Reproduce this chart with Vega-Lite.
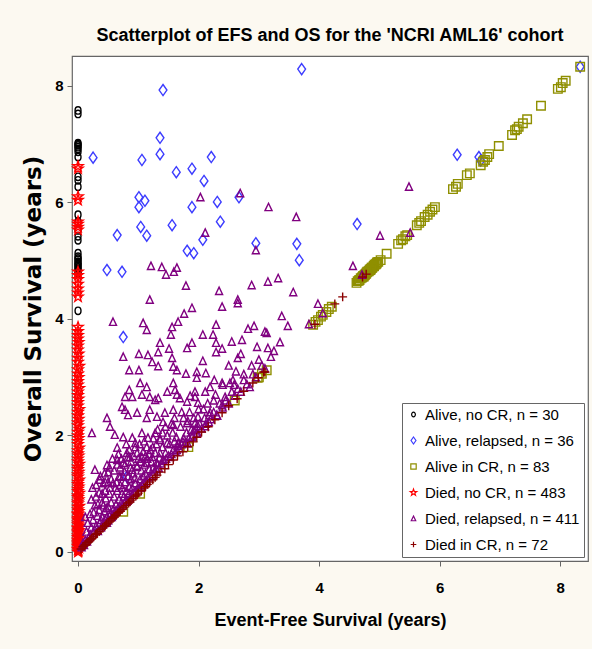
{
"$schema": "https://vega.github.io/schema/vega-lite/v6.json",
"width": 516, "height": 505,
"autosize": {"type": "none"},
"padding": {"left": 72, "top": 56, "right": 4, "bottom": 88},
"background": "#fcf9f1",
"title": {"text": "Scatterplot of EFS and OS for the 'NCRI AML16' cohort", "font": "Liberation Sans", "fontSize": 18, "fontWeight": "bold", "color": "black", "anchor": "middle", "offset": 11},
"config": {
  "view": {"fill": "white", "stroke": "#666666", "strokeWidth": 1.2},
  "axis": {"grid": false, "domain": false, "tickColor": "#666666", "tickSize": 5, "labelFont": "Liberation Sans", "labelFontWeight": "bold", "labelFontSize": 15, "labelColor": "black", "titleColor": "black"},
  "legend": {"orient": "bottom-right", "offset": 4, "fillColor": "white", "strokeColor": "#666666", "padding": 4, "labelFont": "Liberation Sans", "labelFontSize": 15, "labelColor": "black", "symbolSize": 22, "symbolStrokeWidth": 1.2, "rowPadding": 10, "labelLimit": 300, "labelOffset": 4}
},
"data": {"values": [
{"e":0,"o":7.58,"g":"a"},{"e":0,"o":7.52,"g":"a"},{"e":0,"o":7.02,"g":"a"},{"e":0,"o":7.0,"g":"a"},{"e":0,"o":6.98,"g":"a"},{"e":0,"o":6.95,"g":"a"},{"e":0,"o":6.92,"g":"a"},{"e":0,"o":6.87,"g":"a"},{"e":0,"o":6.78,"g":"a"},{"e":0,"o":6.44,"g":"a"},{"e":0,"o":6.38,"g":"a"},{"e":0,"o":6.27,"g":"a"},{"e":0,"o":5.79,"g":"a"},{"e":0,"o":5.67,"g":"a"},{"e":0,"o":5.52,"g":"a"},{"e":0,"o":5.42,"g":"a"},{"e":0,"o":5.35,"g":"a"},{"e":0,"o":5.13,"g":"a"},{"e":0,"o":5.07,"g":"a"},{"e":0,"o":5.04,"g":"a"},{"e":0,"o":5.02,"g":"a"},{"e":0,"o":4.98,"g":"a"},{"e":0,"o":4.96,"g":"a"},{"e":0,"o":4.93,"g":"a"},{"e":0,"o":4.91,"g":"a"},{"e":0,"o":4.88,"g":"a"},{"e":0,"o":4.85,"g":"a"},{"e":0,"o":4.83,"g":"a"},{"e":0,"o":4.79,"g":"a"},{"e":0,"o":4.14,"g":"a"},
{"e":0.25,"o":6.77,"g":"b"},{"e":1.36,"o":7.11,"g":"b"},{"e":1.06,"o":6.73,"g":"b"},{"e":1.36,"o":6.83,"g":"b"},{"e":1.63,"o":6.52,"g":"b"},{"e":1.89,"o":6.58,"g":"b"},{"e":2.21,"o":6.78,"g":"b"},{"e":2.09,"o":6.37,"g":"b"},{"e":1.01,"o":6.09,"g":"b"},{"e":1.11,"o":6.03,"g":"b"},{"e":1.01,"o":5.92,"g":"b"},{"e":1.89,"o":5.92,"g":"b"},{"e":2.31,"o":6.01,"g":"b"},{"e":2.67,"o":6.09,"g":"b"},{"e":1.04,"o":5.58,"g":"b"},{"e":1.14,"o":5.43,"g":"b"},{"e":0.65,"o":5.44,"g":"b"},{"e":1.56,"o":5.61,"g":"b"},{"e":2.36,"o":5.67,"g":"b"},{"e":2.07,"o":5.36,"g":"b"},{"e":1.81,"o":5.17,"g":"b"},{"e":1.92,"o":5.13,"g":"b"},{"e":2.95,"o":5.3,"g":"b"},{"e":0.48,"o":4.84,"g":"b"},{"e":0.73,"o":4.81,"g":"b"},{"e":3.71,"o":8.29,"g":"b"},{"e":1.41,"o":7.93,"g":"b"},{"e":0.75,"o":3.69,"g":"b"},{"e":3.63,"o":5.29,"g":"b"},{"e":3.67,"o":5.01,"g":"b"},{"e":4.63,"o":5.63,"g":"b"},{"e":6.29,"o":6.82,"g":"b"},{"e":6.65,"o":6.78,"g":"b"},{"e":8.33,"o":8.33,"g":"b"},{"e":0.81,"o":1.29,"g":"b"},{"e":6.68,"o":6.72,"g":"b"},
{"e":2.98,"o":2.99,"g":"c"},{"e":3.0,"o":3.0,"g":"c"},{"e":3.05,"o":3.06,"g":"c"},{"e":3.13,"o":3.12,"g":"c"},{"e":3.9,"o":3.9,"g":"c"},{"e":3.94,"o":3.95,"g":"c"},{"e":3.98,"o":3.98,"g":"c"},{"e":4.03,"o":4.04,"g":"c"},{"e":4.06,"o":4.07,"g":"c"},{"e":4.12,"o":4.12,"g":"c"},{"e":4.16,"o":4.17,"g":"c"},{"e":4.21,"o":4.21,"g":"c"},{"e":4.62,"o":4.62,"g":"c"},{"e":4.64,"o":4.65,"g":"c"},{"e":4.67,"o":4.67,"g":"c"},{"e":4.69,"o":4.7,"g":"c"},{"e":4.71,"o":4.71,"g":"c"},{"e":4.73,"o":4.74,"g":"c"},{"e":4.75,"o":4.75,"g":"c"},{"e":4.77,"o":4.77,"g":"c"},{"e":4.79,"o":4.8,"g":"c"},{"e":4.8,"o":4.81,"g":"c"},{"e":4.82,"o":4.82,"g":"c"},{"e":4.84,"o":4.85,"g":"c"},{"e":4.86,"o":4.86,"g":"c"},{"e":4.88,"o":4.88,"g":"c"},{"e":4.9,"o":4.9,"g":"c"},{"e":4.92,"o":4.93,"g":"c"},{"e":4.94,"o":4.94,"g":"c"},{"e":4.96,"o":4.97,"g":"c"},{"e":4.98,"o":4.98,"g":"c"},{"e":4.72,"o":4.72,"g":"c"},{"e":4.78,"o":4.78,"g":"c"},{"e":4.85,"o":4.84,"g":"c"},{"e":4.91,"o":4.91,"g":"c"},{"e":4.76,"o":4.76,"g":"c"},{"e":4.66,"o":4.66,"g":"c"},{"e":4.74,"o":4.73,"g":"c"},{"e":4.83,"o":4.83,"g":"c"},{"e":4.95,"o":4.95,"g":"c"},{"e":4.87,"o":4.88,"g":"c"},{"e":5.02,"o":5.01,"g":"c"},{"e":5.12,"o":5.12,"g":"c"},{"e":5.31,"o":5.29,"g":"c"},{"e":5.36,"o":5.35,"g":"c"},{"e":5.39,"o":5.37,"g":"c"},{"e":5.43,"o":5.42,"g":"c"},{"e":5.46,"o":5.44,"g":"c"},{"e":5.62,"o":5.61,"g":"c"},{"e":5.66,"o":5.65,"g":"c"},{"e":5.69,"o":5.68,"g":"c"},{"e":5.75,"o":5.75,"g":"c"},{"e":5.8,"o":5.79,"g":"c"},{"e":5.84,"o":5.84,"g":"c"},{"e":5.88,"o":5.88,"g":"c"},{"e":5.92,"o":5.92,"g":"c"},{"e":6.22,"o":6.23,"g":"c"},{"e":6.27,"o":6.27,"g":"c"},{"e":6.3,"o":6.32,"g":"c"},{"e":6.45,"o":6.47,"g":"c"},{"e":6.5,"o":6.5,"g":"c"},{"e":6.68,"o":6.64,"g":"c"},{"e":6.72,"o":6.7,"g":"c"},{"e":6.75,"o":6.73,"g":"c"},{"e":6.79,"o":6.78,"g":"c"},{"e":6.82,"o":6.83,"g":"c"},{"e":6.98,"o":6.97,"g":"c"},{"e":7.2,"o":7.16,"g":"c"},{"e":7.25,"o":7.24,"g":"c"},{"e":7.28,"o":7.26,"g":"c"},{"e":7.31,"o":7.3,"g":"c"},{"e":7.38,"o":7.36,"g":"c"},{"e":7.45,"o":7.43,"g":"c"},{"e":7.68,"o":7.66,"g":"c"},{"e":7.96,"o":7.95,"g":"c"},{"e":8.01,"o":7.98,"g":"c"},{"e":8.04,"o":8.05,"g":"c"},{"e":8.09,"o":8.09,"g":"c"},{"e":8.33,"o":8.33,"g":"c"},{"e":1.03,"o":1.0,"g":"c"},{"e":0.75,"o":0.69,"g":"c"},{"e":1.83,"o":1.8,"g":"c"},{"e":2.6,"o":2.6,"g":"c"},
{"e":0,"o":0.0,"g":"d"},{"e":0.01,"o":0.02,"g":"d"},{"e":0,"o":0.04,"g":"d"},{"e":0,"o":0.05,"g":"d"},{"e":0.02,"o":0.07,"g":"d"},{"e":0,"o":0.09,"g":"d"},{"e":0,"o":0.1,"g":"d"},{"e":0.01,"o":0.12,"g":"d"},{"e":0,"o":0.14,"g":"d"},{"e":0,"o":0.16,"g":"d"},{"e":0.02,"o":0.17,"g":"d"},{"e":0,"o":0.19,"g":"d"},{"e":0,"o":0.21,"g":"d"},{"e":0.01,"o":0.24,"g":"d"},{"e":0,"o":0.25,"g":"d"},{"e":0,"o":0.28,"g":"d"},{"e":0.02,"o":0.3,"g":"d"},{"e":0,"o":0.33,"g":"d"},{"e":0,"o":0.35,"g":"d"},{"e":0.01,"o":0.37,"g":"d"},{"e":0,"o":0.4,"g":"d"},{"e":0,"o":0.42,"g":"d"},{"e":0.02,"o":0.45,"g":"d"},{"e":0,"o":0.47,"g":"d"},{"e":0,"o":0.5,"g":"d"},{"e":0.01,"o":0.53,"g":"d"},{"e":0,"o":0.55,"g":"d"},{"e":0,"o":0.58,"g":"d"},{"e":0.02,"o":0.61,"g":"d"},{"e":0,"o":0.64,"g":"d"},{"e":0,"o":0.66,"g":"d"},{"e":0.01,"o":0.7,"g":"d"},{"e":0,"o":0.73,"g":"d"},{"e":0,"o":0.77,"g":"d"},{"e":0.02,"o":0.79,"g":"d"},{"e":0,"o":0.83,"g":"d"},{"e":0,"o":0.86,"g":"d"},{"e":0.01,"o":0.9,"g":"d"},{"e":0,"o":0.94,"g":"d"},{"e":0,"o":0.97,"g":"d"},{"e":0.02,"o":1.01,"g":"d"},{"e":0,"o":1.04,"g":"d"},{"e":0,"o":1.08,"g":"d"},{"e":0.01,"o":1.12,"g":"d"},{"e":0,"o":1.16,"g":"d"},{"e":0,"o":1.2,"g":"d"},{"e":0.02,"o":1.24,"g":"d"},{"e":0,"o":1.29,"g":"d"},{"e":0,"o":1.33,"g":"d"},{"e":0.01,"o":1.37,"g":"d"},{"e":0,"o":1.42,"g":"d"},{"e":0,"o":1.46,"g":"d"},{"e":0.02,"o":1.51,"g":"d"},{"e":0,"o":1.55,"g":"d"},{"e":0,"o":1.6,"g":"d"},{"e":0.01,"o":1.65,"g":"d"},{"e":0,"o":1.69,"g":"d"},{"e":0,"o":1.74,"g":"d"},{"e":0.02,"o":1.79,"g":"d"},{"e":0,"o":1.85,"g":"d"},{"e":0,"o":1.9,"g":"d"},{"e":0.01,"o":1.95,"g":"d"},{"e":0,"o":2.0,"g":"d"},{"e":0,"o":2.06,"g":"d"},{"e":0.02,"o":2.11,"g":"d"},{"e":0,"o":2.17,"g":"d"},{"e":0,"o":2.22,"g":"d"},{"e":0.01,"o":2.28,"g":"d"},{"e":0,"o":2.34,"g":"d"},{"e":0,"o":2.4,"g":"d"},{"e":0.02,"o":2.45,"g":"d"},{"e":0,"o":2.51,"g":"d"},{"e":0,"o":2.57,"g":"d"},{"e":0.01,"o":2.63,"g":"d"},{"e":0,"o":2.69,"g":"d"},{"e":0,"o":2.75,"g":"d"},{"e":0.02,"o":2.81,"g":"d"},{"e":0,"o":2.87,"g":"d"},{"e":0,"o":2.93,"g":"d"},{"e":0.01,"o":3.0,"g":"d"},{"e":0,"o":3.06,"g":"d"},{"e":0,"o":3.13,"g":"d"},{"e":0.02,"o":3.19,"g":"d"},{"e":0,"o":3.26,"g":"d"},{"e":0,"o":3.33,"g":"d"},{"e":0.01,"o":3.4,"g":"d"},{"e":0,"o":3.47,"g":"d"},{"e":0,"o":3.54,"g":"d"},{"e":0.01,"o":3.6,"g":"d"},{"e":0,"o":3.66,"g":"d"},{"e":0,"o":3.72,"g":"d"},{"e":0,"o":3.79,"g":"d"},{"e":0,"o":3.86,"g":"d"},{"e":0,"o":4.38,"g":"d"},{"e":0,"o":4.45,"g":"d"},{"e":0,"o":4.52,"g":"d"},{"e":0,"o":4.6,"g":"d"},{"e":0,"o":4.68,"g":"d"},{"e":0,"o":4.75,"g":"d"},{"e":0,"o":4.81,"g":"d"},{"e":0,"o":5.53,"g":"d"},{"e":0,"o":5.58,"g":"d"},{"e":0,"o":5.63,"g":"d"},{"e":0,"o":5.67,"g":"d"},{"e":0,"o":6.04,"g":"d"},{"e":0,"o":6.1,"g":"d"},{"e":0,"o":6.58,"g":"d"},{"e":0,"o":6.62,"g":"d"},
{"e":1.19,"o":4.33,"g":"e"},{"e":0.58,"o":3.95,"g":"e"},{"e":1.08,"o":3.93,"g":"e"},{"e":1.14,"o":3.81,"g":"e"},{"e":1.76,"o":4.09,"g":"e"},{"e":1.89,"o":4.19,"g":"e"},{"e":1.66,"o":3.95,"g":"e"},{"e":1.56,"o":3.86,"g":"e"},{"e":2.39,"o":4.21,"g":"e"},{"e":2.65,"o":4.27,"g":"e"},{"e":2.29,"o":3.9,"g":"e"},{"e":2.07,"o":3.73,"g":"e"},{"e":2.24,"o":3.73,"g":"e"},{"e":1.54,"o":3.73,"g":"e"},{"e":1.36,"o":3.59,"g":"e"},{"e":1.33,"o":3.43,"g":"e"},{"e":1.51,"o":3.49,"g":"e"},{"e":1.89,"o":3.59,"g":"e"},{"e":2.29,"o":3.59,"g":"e"},{"e":2.55,"o":3.61,"g":"e"},{"e":2.72,"o":3.64,"g":"e"},{"e":2.82,"o":3.83,"g":"e"},{"e":2.92,"o":3.88,"g":"e"},{"e":3.1,"o":3.78,"g":"e"},{"e":2.29,"o":3.43,"g":"e"},{"e":2.39,"o":3.49,"g":"e"},{"e":0.75,"o":3.35,"g":"e"},{"e":1.01,"o":3.4,"g":"e"},{"e":1.16,"o":3.38,"g":"e"},{"e":1.23,"o":3.26,"g":"e"},{"e":1.33,"o":3.19,"g":"e"},{"e":1.56,"o":3.33,"g":"e"},{"e":1.58,"o":3.18,"g":"e"},{"e":1.64,"o":3.12,"g":"e"},{"e":2.07,"o":3.28,"g":"e"},{"e":2.65,"o":3.33,"g":"e"},{"e":0.85,"o":3.12,"g":"e"},{"e":1.01,"o":3.12,"g":"e"},{"e":1.79,"o":3.06,"g":"e"},{"e":1.97,"o":2.99,"g":"e"},{"e":2.12,"o":3.07,"g":"e"},{"e":2.26,"o":2.95,"g":"e"},{"e":2.4,"o":2.87,"g":"e"},{"e":2.19,"o":2.83,"g":"e"},{"e":2.59,"o":2.87,"g":"e"},{"e":2.85,"o":2.83,"g":"e"},{"e":1.58,"o":2.9,"g":"e"},{"e":1.61,"o":2.78,"g":"e"},{"e":1.48,"o":2.75,"g":"e"},{"e":1.03,"o":2.9,"g":"e"},{"e":1.06,"o":2.7,"g":"e"},{"e":0.85,"o":2.78,"g":"e"},{"e":0.78,"o":2.66,"g":"e"},{"e":0.9,"o":2.66,"g":"e"},{"e":1.33,"o":2.64,"g":"e"},{"e":1.28,"o":2.61,"g":"e"},{"e":1.64,"o":2.7,"g":"e"},{"e":1.69,"o":2.64,"g":"e"},{"e":1.86,"o":2.68,"g":"e"},{"e":1.94,"o":2.66,"g":"e"},{"e":1.99,"o":2.56,"g":"e"},{"e":2.44,"o":2.66,"g":"e"},{"e":0.73,"o":2.49,"g":"e"},{"e":0.78,"o":2.44,"g":"e"},{"e":0.48,"o":2.3,"g":"e"},{"e":0.53,"o":2.15,"g":"e"},{"e":0.61,"o":2.01,"g":"e"},{"e":0.23,"o":2.04,"g":"e"},{"e":0.83,"o":2.35,"g":"e"},{"e":0.98,"o":2.39,"g":"e"},{"e":1.19,"o":2.44,"g":"e"},{"e":1.31,"o":2.32,"g":"e"},{"e":1.14,"o":2.3,"g":"e"},{"e":1.44,"o":2.39,"g":"e"},{"e":1.41,"o":2.23,"g":"e"},{"e":1.58,"o":2.44,"g":"e"},{"e":1.72,"o":2.4,"g":"e"},{"e":1.58,"o":2.18,"g":"e"},{"e":1.81,"o":2.21,"g":"e"},{"e":1.92,"o":2.09,"g":"e"},{"e":1.99,"o":2.16,"g":"e"},{"e":1.89,"o":1.97,"g":"e"},{"e":1.97,"o":2.03,"g":"e"},{"e":2.19,"o":2.4,"g":"e"},{"e":2.17,"o":2.23,"g":"e"},{"e":2.11,"o":2.16,"g":"e"},{"e":2.39,"o":2.52,"g":"e"},{"e":2.31,"o":2.34,"g":"e"},{"e":0.75,"o":1.97,"g":"e"},{"e":0.9,"o":1.96,"g":"e"},{"e":0.95,"o":1.87,"g":"e"},{"e":1.06,"o":2.04,"g":"e"},{"e":1.16,"o":1.96,"g":"e"},{"e":1.28,"o":2.04,"g":"e"},{"e":1.36,"o":1.92,"g":"e"},{"e":1.48,"o":1.87,"g":"e"},{"e":1.14,"o":1.8,"g":"e"},{"e":1.24,"o":1.8,"g":"e"},{"e":0.65,"o":1.79,"g":"e"},{"e":0.81,"o":1.7,"g":"e"},{"e":0.86,"o":1.63,"g":"e"},{"e":0.98,"o":1.7,"g":"e"},{"e":1.06,"o":1.63,"g":"e"},{"e":1.23,"o":1.63,"g":"e"},{"e":1.36,"o":1.7,"g":"e"},{"e":1.63,"o":1.97,"g":"e"},{"e":1.66,"o":1.87,"g":"e"},{"e":1.74,"o":1.89,"g":"e"},{"e":0.65,"o":1.58,"g":"e"},{"e":0.75,"o":1.53,"g":"e"},{"e":0.48,"o":1.49,"g":"e"},{"e":0.5,"o":1.37,"g":"e"},{"e":0.28,"o":1.41,"g":"e"},{"e":0.36,"o":1.24,"g":"e"},{"e":0.45,"o":1.2,"g":"e"},{"e":0.58,"o":1.18,"g":"e"},{"e":0.7,"o":1.29,"g":"e"},{"e":0.9,"o":1.41,"g":"e"},{"e":0.98,"o":1.46,"g":"e"},{"e":1.14,"o":1.53,"g":"e"},{"e":1.31,"o":1.53,"g":"e"},{"e":1.41,"o":1.58,"g":"e"},{"e":1.53,"o":1.63,"g":"e"},{"e":1.64,"o":1.75,"g":"e"},{"e":1.82,"o":1.86,"g":"e"},{"e":1.94,"o":2.21,"g":"e"},{"e":1.99,"o":2.32,"g":"e"},{"e":1.14,"o":2.83,"g":"e"},{"e":1.19,"o":2.66,"g":"e"},{"e":1.81,"o":2.58,"g":"e"},{"e":1.94,"o":2.75,"g":"e"},{"e":2.11,"o":2.75,"g":"e"},{"e":2.39,"o":2.9,"g":"e"},{"e":1.81,"o":3.5,"g":"e"},{"e":1.97,"o":3.09,"g":"e"},{"e":2.57,"o":2.95,"g":"e"},{"e":2.97,"o":3.52,"g":"e"},{"e":3.13,"o":3.76,"g":"e"},{"e":2.03,"o":6.09,"g":"e"},{"e":2.69,"o":6.16,"g":"e"},{"e":2.11,"o":5.48,"g":"e"},{"e":3.16,"o":5.92,"g":"e"},{"e":2.95,"o":5.18,"g":"e"},{"e":1.21,"o":4.91,"g":"e"},{"e":1.39,"o":4.89,"g":"e"},{"e":1.46,"o":4.76,"g":"e"},{"e":1.59,"o":4.81,"g":"e"},{"e":1.64,"o":4.88,"g":"e"},{"e":1.79,"o":4.57,"g":"e"},{"e":2.34,"o":4.48,"g":"e"},{"e":2.88,"o":4.58,"g":"e"},{"e":3.15,"o":4.64,"g":"e"},{"e":2.65,"o":4.33,"g":"e"},{"e":3.62,"o":5.75,"g":"e"},{"e":5.49,"o":6.27,"g":"e"},{"e":5.01,"o":5.43,"g":"e"},{"e":5.51,"o":5.48,"g":"e"},{"e":4.56,"o":4.91,"g":"e"},{"e":4.71,"o":4.76,"g":"e"},{"e":3.32,"o":4.7,"g":"e"},{"e":3.57,"o":4.46,"g":"e"},{"e":3.98,"o":4.26,"g":"e"},{"e":4.06,"o":4.1,"g":"e"},{"e":3.38,"o":4.05,"g":"e"},{"e":3.48,"o":3.88,"g":"e"},{"e":3.15,"o":3.5,"g":"e"},{"e":3.83,"o":3.91,"g":"e"},{"e":2.75,"o":3.05,"g":"e"},{"e":2.88,"o":3.2,"g":"e"},{"e":3.0,"o":3.3,"g":"e"},{"e":3.25,"o":3.45,"g":"e"},{"e":3.35,"o":3.6,"g":"e"},{"e":2.5,"o":3.2,"g":"e"},{"e":2.7,"o":3.4,"g":"e"},
{"e":0.06,"o":0.08,"g":"e"},{"e":0.1,"o":0.12,"g":"e"},{"e":0.12,"o":0.2,"g":"e"},{"e":0.15,"o":0.18,"g":"e"},{"e":0.08,"o":0.15,"g":"e"},{"e":0.18,"o":0.25,"g":"e"},{"e":0.2,"o":0.3,"g":"e"},{"e":0.14,"o":0.35,"g":"e"},{"e":0.16,"o":0.5,"g":"e"},{"e":0.22,"o":0.42,"g":"e"},{"e":0.25,"o":0.33,"g":"e"},{"e":0.12,"o":0.6,"g":"e"},{"e":0.25,"o":0.55,"g":"e"},{"e":0.28,"o":0.38,"g":"e"},{"e":0.3,"o":0.45,"g":"e"},{"e":0.32,"o":0.62,"g":"e"},{"e":0.33,"o":0.36,"g":"e"},{"e":0.35,"o":0.72,"g":"e"},{"e":0.36,"o":0.5,"g":"e"},{"e":0.38,"o":0.42,"g":"e"},{"e":0.4,"o":0.85,"g":"e"},{"e":0.28,"o":0.8,"g":"e"},{"e":0.3,"o":0.95,"g":"e"},{"e":0.4,"o":0.6,"g":"e"},{"e":0.38,"o":0.55,"g":"e"},{"e":0.26,"o":0.68,"g":"e"},{"e":0.42,"o":0.48,"g":"e"},{"e":0.44,"o":0.7,"g":"e"},{"e":0.45,"o":0.56,"g":"e"},{"e":0.46,"o":0.92,"g":"e"},{"e":0.48,"o":0.6,"g":"e"},{"e":0.5,"o":0.78,"g":"e"},{"e":0.5,"o":0.54,"g":"e"},{"e":0.52,"o":1.0,"g":"e"},{"e":0.54,"o":0.66,"g":"e"},{"e":0.55,"o":0.85,"g":"e"},{"e":0.56,"o":0.6,"g":"e"},{"e":0.58,"o":0.72,"g":"e"},{"e":0.6,"o":0.95,"g":"e"},{"e":0.6,"o":0.66,"g":"e"},{"e":0.45,"o":1.05,"g":"e"},{"e":0.42,"o":0.8,"g":"e"},{"e":0.48,"o":0.5,"g":"e"},{"e":0.53,"o":1.1,"g":"e"},{"e":0.57,"o":0.63,"g":"e"},{"e":0.62,"o":0.7,"g":"e"},{"e":0.63,"o":0.82,"g":"e"},{"e":0.65,"o":1.05,"g":"e"},{"e":0.66,"o":0.75,"g":"e"},{"e":0.68,"o":0.9,"g":"e"},{"e":0.7,"o":0.76,"g":"e"},{"e":0.7,"o":1.15,"g":"e"},{"e":0.72,"o":0.85,"g":"e"},{"e":0.73,"o":1.0,"g":"e"},{"e":0.75,"o":0.8,"g":"e"},{"e":0.76,"o":0.95,"g":"e"},{"e":0.78,"o":1.2,"g":"e"},{"e":0.78,"o":0.86,"g":"e"},{"e":0.8,"o":1.05,"g":"e"},{"e":0.8,"o":0.9,"g":"e"},{"e":0.64,"o":1.2,"g":"e"},{"e":0.68,"o":1.3,"g":"e"},{"e":0.74,"o":1.1,"g":"e"},{"e":0.77,"o":1.38,"g":"e"},{"e":0.82,"o":0.88,"g":"e"},{"e":0.84,"o":1.0,"g":"e"},{"e":0.85,"o":1.12,"g":"e"},{"e":0.86,"o":0.92,"g":"e"},{"e":0.88,"o":1.25,"g":"e"},{"e":0.9,"o":0.98,"g":"e"},{"e":0.9,"o":1.1,"g":"e"},{"e":0.92,"o":1.35,"g":"e"},{"e":0.93,"o":1.02,"g":"e"},{"e":0.95,"o":1.18,"g":"e"},{"e":0.96,"o":1.04,"g":"e"},{"e":0.98,"o":1.48,"g":"e"},{"e":0.99,"o":1.1,"g":"e"},{"e":0.83,"o":1.3,"g":"e"},{"e":0.87,"o":1.45,"g":"e"},{"e":0.94,"o":1.27,"g":"e"},{"e":1.02,"o":1.1,"g":"e"},{"e":1.03,"o":1.25,"g":"e"},{"e":1.05,"o":1.4,"g":"e"},{"e":1.06,"o":1.15,"g":"e"},{"e":1.08,"o":1.3,"g":"e"},{"e":1.1,"o":1.2,"g":"e"},{"e":1.1,"o":1.5,"g":"e"},{"e":1.12,"o":1.35,"g":"e"},{"e":1.14,"o":1.22,"g":"e"},{"e":1.15,"o":1.6,"g":"e"},{"e":1.16,"o":1.28,"g":"e"},{"e":1.18,"o":1.42,"g":"e"},{"e":1.2,"o":1.3,"g":"e"},{"e":1.22,"o":1.55,"g":"e"},{"e":1.24,"o":1.33,"g":"e"},{"e":1.25,"o":1.45,"g":"e"},{"e":1.27,"o":1.38,"g":"e"},{"e":1.28,"o":1.7,"g":"e"},{"e":1.3,"o":1.42,"g":"e"},{"e":1.04,"o":1.55,"g":"e"},{"e":1.12,"o":1.65,"g":"e"},{"e":1.2,"o":1.75,"g":"e"},{"e":1.32,"o":1.5,"g":"e"},{"e":1.34,"o":1.44,"g":"e"},{"e":1.35,"o":1.62,"g":"e"},{"e":1.38,"o":1.52,"g":"e"},{"e":1.4,"o":1.8,"g":"e"},{"e":1.42,"o":1.56,"g":"e"},{"e":1.45,"o":1.7,"g":"e"},{"e":1.46,"o":1.6,"g":"e"},{"e":1.5,"o":1.65,"g":"e"},{"e":1.52,"o":1.85,"g":"e"},{"e":1.55,"o":1.68,"g":"e"},{"e":1.58,"o":1.75,"g":"e"},{"e":1.6,"o":1.9,"g":"e"},{"e":1.62,"o":1.72,"g":"e"},{"e":1.65,"o":1.82,"g":"e"},{"e":1.68,"o":1.78,"g":"e"},{"e":1.36,"o":1.95,"g":"e"},{"e":1.48,"o":2.0,"g":"e"},{"e":1.57,"o":2.05,"g":"e"},{"e":1.72,"o":1.85,"g":"e"},{"e":1.75,"o":1.95,"g":"e"},{"e":1.78,"o":1.88,"g":"e"},{"e":1.8,"o":2.05,"g":"e"},{"e":1.84,"o":1.96,"g":"e"},{"e":1.88,"o":2.1,"g":"e"},{"e":1.9,"o":2.0,"g":"e"},{"e":1.95,"o":2.12,"g":"e"},{"e":1.98,"o":2.05,"g":"e"},{"e":2.02,"o":2.2,"g":"e"},{"e":2.05,"o":2.12,"g":"e"},{"e":2.1,"o":2.3,"g":"e"},{"e":2.12,"o":2.2,"g":"e"},{"e":2.18,"o":2.35,"g":"e"},{"e":2.2,"o":2.28,"g":"e"},{"e":1.82,"o":2.25,"g":"e"},{"e":1.92,"o":2.3,"g":"e"},{"e":2.08,"o":2.45,"g":"e"},{"e":2.25,"o":2.4,"g":"e"},{"e":2.3,"o":2.35,"g":"e"},{"e":2.35,"o":2.55,"g":"e"},{"e":2.4,"o":2.48,"g":"e"},{"e":2.45,"o":2.6,"g":"e"},{"e":2.5,"o":2.55,"g":"e"},{"e":2.55,"o":2.75,"g":"e"},{"e":2.6,"o":2.68,"g":"e"},{"e":2.65,"o":2.8,"g":"e"},{"e":2.7,"o":2.75,"g":"e"},{"e":2.75,"o":2.95,"g":"e"},{"e":2.8,"o":2.88,"g":"e"},{"e":2.9,"o":3.05,"g":"e"},{"e":2.95,"o":3.0,"g":"e"},{"e":3.05,"o":3.2,"g":"e"},{"e":3.1,"o":3.15,"g":"e"},{"e":3.2,"o":3.35,"g":"e"},{"e":2.28,"o":2.7,"g":"e"},{"e":2.52,"o":2.9,"g":"e"},{"e":2.62,"o":3.1,"g":"e"},
{"e":0.2,"o":0.65,"g":"e"},{"e":0.22,"o":0.9,"g":"e"},{"e":0.24,"o":1.1,"g":"e"},{"e":0.3,"o":1.15,"g":"e"},{"e":0.33,"o":0.82,"g":"e"},{"e":0.35,"o":1.02,"g":"e"},{"e":0.37,"o":1.3,"g":"e"},{"e":0.4,"o":1.0,"g":"e"},{"e":0.42,"o":1.18,"g":"e"},{"e":0.44,"o":1.35,"g":"e"},{"e":0.47,"o":0.75,"g":"e"},{"e":0.5,"o":1.2,"g":"e"},{"e":0.52,"o":1.45,"g":"e"},{"e":0.55,"o":1.25,"g":"e"},{"e":0.57,"o":1.6,"g":"e"},{"e":0.6,"o":1.4,"g":"e"},{"e":0.62,"o":1.1,"g":"e"},{"e":0.65,"o":1.5,"g":"e"},{"e":0.67,"o":1.68,"g":"e"},{"e":0.7,"o":1.45,"g":"e"},{"e":0.72,"o":1.6,"g":"e"},{"e":0.75,"o":1.3,"g":"e"},{"e":0.78,"o":1.5,"g":"e"},{"e":0.8,"o":1.85,"g":"e"},{"e":0.82,"o":1.62,"g":"e"},{"e":0.85,"o":1.75,"g":"e"},{"e":0.88,"o":1.55,"g":"e"},{"e":0.92,"o":1.65,"g":"e"},{"e":0.95,"o":1.8,"g":"e"},{"e":1.0,"o":1.6,"g":"e"},{"e":1.02,"o":1.85,"g":"e"},{"e":1.08,"o":1.72,"g":"e"},{"e":1.1,"o":1.9,"g":"e"},{"e":1.18,"o":1.68,"g":"e"},{"e":1.25,"o":1.95,"g":"e"},{"e":1.3,"o":1.85,"g":"e"},{"e":1.32,"o":2.1,"g":"e"},{"e":1.4,"o":2.05,"g":"e"},{"e":1.45,"o":2.15,"g":"e"},{"e":1.55,"o":2.2,"g":"e"},{"e":1.6,"o":2.3,"g":"e"},{"e":1.7,"o":2.15,"g":"e"},{"e":1.75,"o":2.3,"g":"e"},{"e":1.85,"o":2.4,"g":"e"},{"e":2.0,"o":2.45,"g":"e"},{"e":2.15,"o":2.55,"g":"e"},{"e":2.25,"o":2.6,"g":"e"},
{"e":0.05,"o":0.05,"g":"f"},{"e":0.08,"o":0.09,"g":"f"},{"e":0.1,"o":0.1,"g":"f"},{"e":0.12,"o":0.12,"g":"f"},{"e":0.13,"o":0.13,"g":"f"},{"e":0.15,"o":0.16,"g":"f"},{"e":0.18,"o":0.18,"g":"f"},{"e":0.2,"o":0.21,"g":"f"},{"e":0.22,"o":0.22,"g":"f"},{"e":0.23,"o":0.23,"g":"f"},{"e":0.26,"o":0.26,"g":"f"},{"e":0.29,"o":0.3,"g":"f"},{"e":0.31,"o":0.31,"g":"f"},{"e":0.32,"o":0.32,"g":"f"},{"e":0.35,"o":0.35,"g":"f"},{"e":0.38,"o":0.39,"g":"f"},{"e":0.41,"o":0.41,"g":"f"},{"e":0.44,"o":0.44,"g":"f"},{"e":0.45,"o":0.45,"g":"f"},{"e":0.47,"o":0.48,"g":"f"},{"e":0.5,"o":0.5,"g":"f"},{"e":0.53,"o":0.53,"g":"f"},{"e":0.56,"o":0.57,"g":"f"},{"e":0.58,"o":0.58,"g":"f"},{"e":0.6,"o":0.6,"g":"f"},{"e":0.63,"o":0.63,"g":"f"},{"e":0.66,"o":0.67,"g":"f"},{"e":0.68,"o":0.68,"g":"f"},{"e":0.7,"o":0.7,"g":"f"},{"e":0.73,"o":0.73,"g":"f"},{"e":0.76,"o":0.77,"g":"f"},{"e":0.8,"o":0.8,"g":"f"},{"e":0.84,"o":0.84,"g":"f"},{"e":0.86,"o":0.86,"g":"f"},{"e":0.88,"o":0.89,"g":"f"},{"e":0.92,"o":0.92,"g":"f"},{"e":0.96,"o":0.96,"g":"f"},{"e":0.98,"o":0.98,"g":"f"},{"e":1.0,"o":1.01,"g":"f"},{"e":1.05,"o":1.05,"g":"f"},{"e":1.1,"o":1.1,"g":"f"},{"e":1.12,"o":1.12,"g":"f"},{"e":1.15,"o":1.16,"g":"f"},{"e":1.19,"o":1.2,"g":"f"},{"e":1.24,"o":1.24,"g":"f"},{"e":1.28,"o":1.28,"g":"f"},{"e":1.31,"o":1.32,"g":"f"},{"e":1.36,"o":1.37,"g":"f"},{"e":1.44,"o":1.43,"g":"f"},{"e":1.5,"o":1.5,"g":"f"},{"e":1.58,"o":1.58,"g":"f"},{"e":1.65,"o":1.65,"g":"f"},{"e":1.74,"o":1.72,"g":"f"},{"e":1.82,"o":1.81,"g":"f"},{"e":1.91,"o":1.89,"g":"f"},{"e":1.97,"o":1.97,"g":"f"},{"e":2.05,"o":2.06,"g":"f"},{"e":2.16,"o":2.15,"g":"f"},{"e":2.27,"o":2.27,"g":"f"},{"e":2.39,"o":2.39,"g":"f"},{"e":2.5,"o":2.51,"g":"f"},{"e":2.64,"o":2.63,"g":"f"},{"e":2.75,"o":2.76,"g":"f"},{"e":2.9,"o":2.9,"g":"f"},{"e":2.99,"o":2.99,"g":"f"},{"e":3.08,"o":3.09,"g":"f"},{"e":3.1,"o":3.09,"g":"f"},{"e":3.93,"o":3.91,"g":"f"},{"e":4.26,"o":4.26,"g":"f"},{"e":4.39,"o":4.38,"g":"f"},{"e":4.72,"o":4.72,"g":"f"},{"e":4.78,"o":4.77,"g":"f"}
]},
"transform": [{"lookup": "g", "from": {"data": {"values": [
  {"g": "a", "s": "Alive, no CR, n = 30"},
  {"g": "b", "s": "Alive, relapsed, n = 36"},
  {"g": "c", "s": "Alive in CR, n = 83"},
  {"g": "d", "s": "Died, no CR, n = 483"},
  {"g": "e", "s": "Died, relapsed, n = 411"},
  {"g": "f", "s": "Died in CR, n = 72"}
]}, "key": "g", "fields": ["s"]}}],
"mark": {"type": "point", "filled": false, "size": 55, "strokeWidth": 1.4, "opacity": 1},
"encoding": {
  "x": {"field": "e", "type": "quantitative", "scale": {"domain": [-0.1, 8.46], "nice": false, "zero": false},
        "axis": {"values": [0, 2, 4, 6, 8], "labelPadding": 14, "title": "Event-Free Survival (years)", "titleFont": "Liberation Sans", "titleFontSize": 18, "titleFontWeight": "bold", "titlePadding": 16}},
  "y": {"field": "o", "type": "quantitative", "scale": {"domain": [-0.155, 8.515], "nice": false, "zero": false},
        "axis": {"values": [0, 2, 4, 6, 8], "labelPadding": 4, "title": "Overall Survival (years)", "titleFont": "DejaVu Sans", "titleFontSize": 23, "titleFontWeight": "bold", "titlePadding": 9}},
  "shape": {"field": "s", "type": "nominal",
    "scale": {"domain": ["Alive, no CR, n = 30", "Alive, relapsed, n = 36", "Alive in CR, n = 83", "Died, no CR, n = 483", "Died, relapsed, n = 411", "Died in CR, n = 72"],
              "range": ["M0.8,0A0.8,1 0 1,1 -0.8,0A0.8,1 0 1,1 0.8,0Z", "M0,-1.5L1.05,0L0,1.5L-1.05,0Z", "M-1.15,-1.15H1.15V1.15H-1.15Z", "M0,-1.45L0.341,-0.469L1.379,-0.448L0.552,0.179L0.852,1.173L0,0.58L-0.852,1.173L-0.552,0.179L-1.379,-0.448L-0.341,-0.469Z", "M0,-1.05L0.95,0.95L-0.95,0.95Z", "M-1.2,0H1.2M0,-1.2V1.2"]},
    "legend": {"title": null}},
  "color": {"field": "s", "type": "nominal",
    "scale": {"domain": ["Alive, no CR, n = 30", "Alive, relapsed, n = 36", "Alive in CR, n = 83", "Died, no CR, n = 483", "Died, relapsed, n = 411", "Died in CR, n = 72"],
              "range": ["#000000", "#3d3dff", "#8f8f00", "#ff0000", "#800080", "#8b0000"]},
    "legend": {"title": null}}
}
}
